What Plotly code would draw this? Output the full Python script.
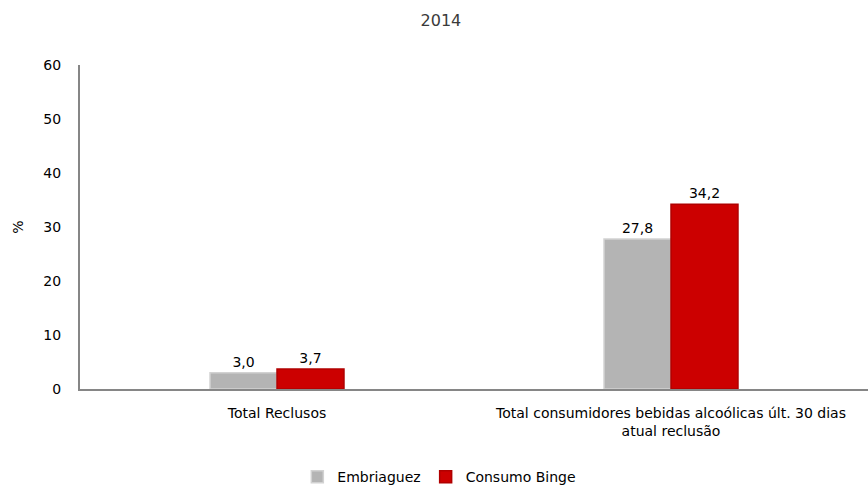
import plotly.graph_objects as go

# Categories and series values (%)
categories = ["Total Reclusos", "Total consumidores bebidas alcoólicas últ. 30 dias<br>atual reclusão"]
embriaguez = [3.0, 27.8]
consumo_binge = [3.7, 34.2]
y_ticks = [0, 10, 20, 30, 40, 50, 60]

font_family = "'DejaVu Sans', sans-serif"

fig = go.Figure()
fig.add_trace(go.Bar(
    name="Embriaguez", x=categories, y=embriaguez,
    marker=dict(color="#B4B4B4", line=dict(color="#D2D2D2", width=1.5)),
    texttemplate="%{y:.1f}", textposition="outside",
    textfont=dict(size=14, color="#000000"), cliponaxis=False,
))
fig.add_trace(go.Bar(
    name="Consumo Binge", x=categories, y=consumo_binge,
    marker=dict(color="#CC0000", line=dict(color="#B00000", width=1.5)),
    texttemplate="%{y:.1f}", textposition="outside",
    textfont=dict(size=14, color="#000000"), cliponaxis=False,
))

fig.update_layout(
    width=868, height=486,
    margin=dict(l=80, r=0, t=65, b=97, autoexpand=False),
    paper_bgcolor="white", plot_bgcolor="white",
    separators=", ",
    barmode="group", bargap=0.66, bargroupgap=0,
    font=dict(family=font_family, size=14, color="#000000"),
    title=dict(text="2014", x=0.508, xanchor="center", y=0.958, yanchor="middle",
               font=dict(family=font_family, size=16, color="#3A3A3A")),
    showlegend=True,
    legend=dict(orientation="h", x=0.456, xanchor="center", y=-0.272, yanchor="middle",
                font=dict(size=14), itemwidth=30, traceorder="normal"),
    xaxis=dict(showline=True, linecolor="#868686", linewidth=2, ticks="",
               showgrid=False, tickfont=dict(size=14), zeroline=False, automargin=False,
               ticklabelstandoff=10),
    yaxis=dict(range=[0, 60], tickvals=y_ticks, showline=True, linecolor="#868686",
               linewidth=2, ticks="", showgrid=False, zeroline=False, automargin=False,
               tickfont=dict(size=14), ticklabelstandoff=14,
               title=dict(text="%", font=dict(size=14), standoff=16)),
)

fig.write_html("out.html")
